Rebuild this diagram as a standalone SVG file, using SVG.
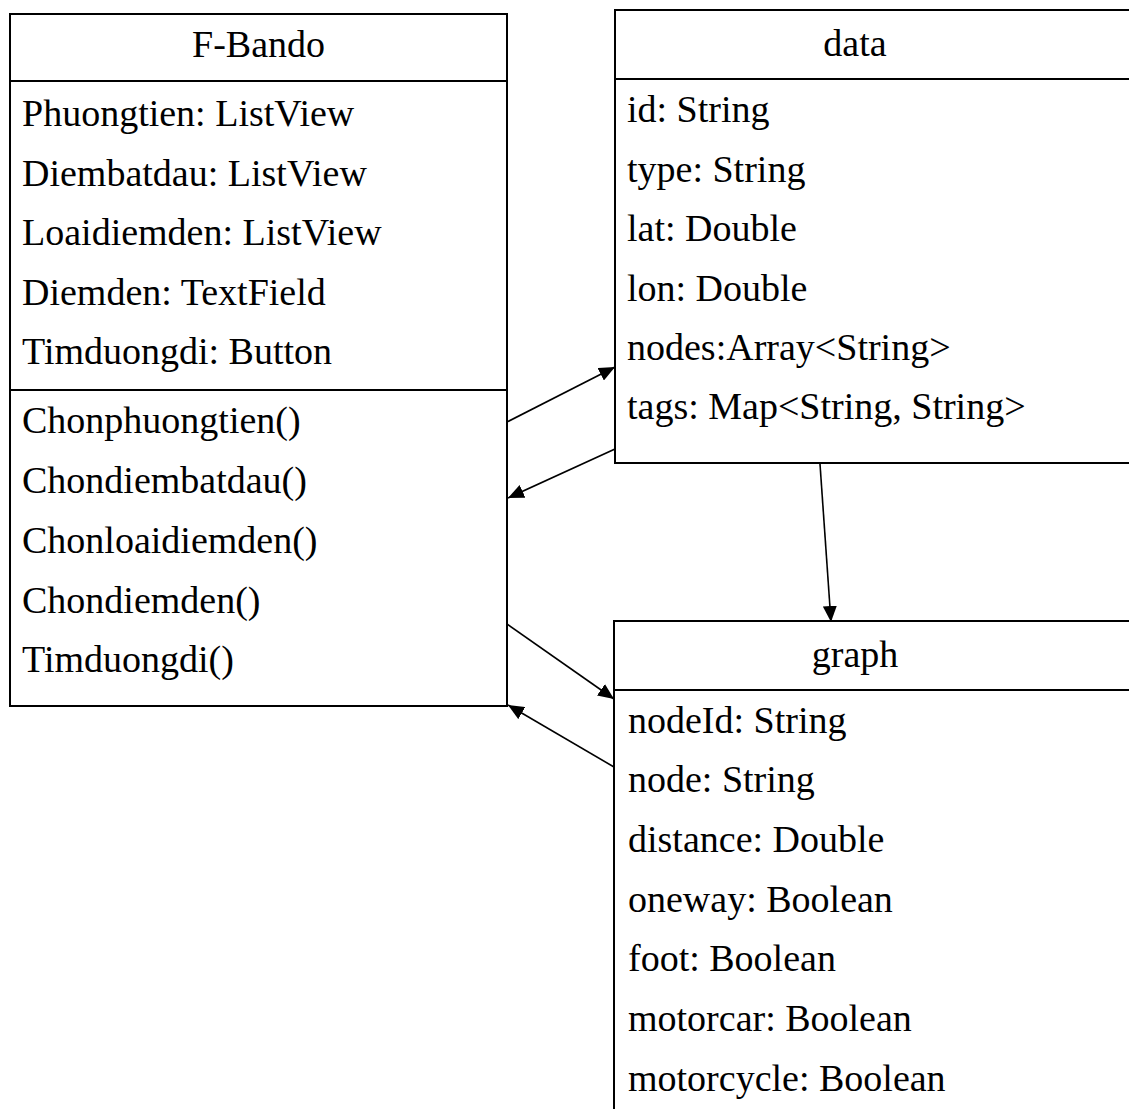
<svg xmlns="http://www.w3.org/2000/svg" width="1129" height="1109" viewBox="0 0 1129 1109">
<style>
  .box { fill: #ffffff; stroke: #000000; stroke-width: 2; }
  .sep { stroke: #000000; stroke-width: 2; }
  text { font-family: "Liberation Serif", "Times New Roman", serif; font-size: 38px; fill: #000000; }
  .title { text-anchor: middle; }
  .conn { stroke: #000000; stroke-width: 1.6; fill: none; marker-end: url(#arrow); }
</style>
<defs>
  <marker id="arrow" viewBox="0 0 16 14" refX="16" refY="7" markerWidth="16" markerHeight="14" markerUnits="userSpaceOnUse" orient="auto">
    <path d="M0,0 L16,7 L0,14 Z" fill="#000000"/>
  </marker>
</defs>
<rect width="1129" height="1109" fill="#ffffff"/>

<g id="node-fbando">
  <rect class="box" x="10" y="14" width="497" height="692"/>
  <line class="sep" x1="10" y1="81" x2="507" y2="81"/>
  <line class="sep" x1="10" y1="390" x2="507" y2="390"/>
  <text class="title" x="258.5" y="57">F-Bando</text>
  <text x="22" y="126">Phuongtien: ListView</text>
  <text x="22" y="186">Diembatdau: ListView</text>
  <text x="22" y="245">Loaidiemden: ListView</text>
  <text x="22" y="305">Diemden: TextField</text>
  <text x="22" y="364">Timduongdi: Button</text>
  <text x="22" y="433">Chonphuongtien()</text>
  <text x="22" y="493">Chondiembatdau()</text>
  <text x="22" y="553">Chonloaidiemden()</text>
  <text x="22" y="613">Chondiemden()</text>
  <text x="22" y="672">Timduongdi()</text>
</g>

<g id="node-data">
  <rect class="box" x="615" y="10" width="530" height="453"/>
  <line class="sep" x1="615" y1="79" x2="1145" y2="79"/>
  <text class="title" x="855" y="56">data</text>
  <text x="627" y="122">id: String</text>
  <text x="627" y="182">type: String</text>
  <text x="627" y="241">lat: Double</text>
  <text x="627" y="301">lon: Double</text>
  <text x="627" y="360">nodes:Array&lt;String&gt;</text>
  <text x="627" y="419">tags: Map&lt;String, String&gt;</text>
</g>

<g id="node-graph">
  <rect class="box" x="614" y="621" width="530" height="500"/>
  <line class="sep" x1="614" y1="690" x2="1144" y2="690"/>
  <text class="title" x="855" y="667">graph</text>
  <text x="628" y="733">nodeId: String</text>
  <text x="628" y="792">node: String</text>
  <text x="628" y="852">distance: Double</text>
  <text x="628" y="912">oneway: Boolean</text>
  <text x="628" y="971">foot: Boolean</text>
  <text x="628" y="1031">motorcar: Boolean</text>
  <text x="628" y="1091">motorcycle: Boolean</text>
</g>

<g id="connectors">
  <line class="conn" x1="507" y1="422" x2="615" y2="367"/>
  <line class="conn" x1="615" y1="449" x2="508" y2="498"/>
  <line class="conn" x1="507" y1="624" x2="614" y2="699"/>
  <line class="conn" x1="614" y1="767" x2="508" y2="705"/>
  <line class="conn" x1="820" y1="464" x2="831" y2="622"/>
</g>
</svg>
